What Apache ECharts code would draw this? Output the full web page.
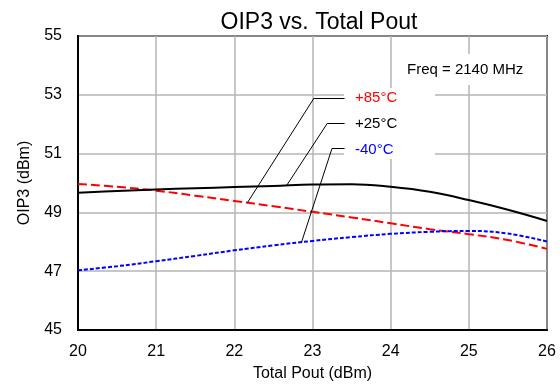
<!DOCTYPE html>
<html><head><meta charset="utf-8">
<script src="https://cdn.jsdelivr.net/npm/echarts@6/dist/echarts.min.js"></script>
<style>html,body{margin:0;padding:0;background:#fff}#c{width:560px;height:387px}</style>
</head><body><div id="c"></div>
<script>
const pout = [20, 20.5, 21, 21.5, 22, 22.5, 23, 23.5, 24, 24.5, 25, 25.5, 26];
const oip3_25 = [49.67, 49.73, 49.78, 49.82, 49.86, 49.90, 49.95, 49.96, 49.87, 49.70, 49.42, 49.09, 48.71];
const oip3_85 = [49.97, 49.87, 49.74, 49.57, 49.39, 49.21, 49.02, 48.83, 48.63, 48.43, 48.26, 48.06, 47.76];
const oip3_m40 = [47.03, 47.17, 47.34, 47.52, 47.71, 47.88, 48.03, 48.16, 48.27, 48.34, 48.37, 48.28, 48.01];
const seriesNames = ['+85°C', '+25°C', '-40°C'];
// leader lines: [curve point, elbow, end] in data units
const leader85 = [[22.17, 49.34], [23.02, 52.89], [23.41, 52.89]];
const leader25 = [[22.67, 49.92], [23.19, 52.03], [23.41, 52.03]];
const leaderM40 = [[22.86, 47.99], [23.25, 51.18], [23.41, 51.18]];

const pairs = (xs, ys) => xs.map((x, i) => [x, ys[i]]);
const segs = pts => pts.slice(1).map((p, i) => [{coord: pts[i]}, {coord: p}]);
const FONT = 'Liberation Sans, Arial, sans-serif';

const chart = echarts.init(document.getElementById('c'), null, {renderer: 'canvas'});
chart.setOption({
  animation: false,
  backgroundColor: '#fff',
  title: {text: 'OIP3 vs. Total Pout', left: 314, top: 6, textAlign: 'center',
    textStyle: {fontFamily: FONT, fontSize: 23, fontWeight: 'normal', color: '#000'}},
  grid: {left: 78, right: 13, top: 36, bottom: 54, show: true, borderColor: '#000', borderWidth: 2, backgroundColor: 'transparent'},
  xAxis: {type: 'value', min: 20, max: 26, interval: 1,
    name: 'Total Pout (dBm)', nameLocation: 'middle', nameGap: 36,
    nameTextStyle: {fontFamily: FONT, fontSize: 16, color: '#000'},
    axisLine: {show: true, lineStyle: {color: '#000', width: 2}},
    axisTick: {show: false},
    axisLabel: {fontFamily: FONT, fontSize: 16, color: '#000', margin: 14},
    splitLine: {show: true, lineStyle: {color: '#b4b4b4', width: 1.5}}},
  yAxis: {type: 'value', min: 45, max: 55, interval: 2,
    name: 'OIP3 (dBm)', nameLocation: 'middle', nameGap: 45,
    nameTextStyle: {fontFamily: FONT, fontSize: 16, color: '#000'},
    axisLine: {show: true, lineStyle: {color: '#000', width: 2}},
    axisTick: {show: false},
    axisLabel: {fontFamily: FONT, fontSize: 16, color: '#000', margin: 16},
    splitLine: {show: true, lineStyle: {color: '#b4b4b4', width: 1.5}}},
  graphic: [
    {type: 'rect', shape: {x: 344, y: 88, width: 91, height: 71}, style: {fill: '#fff'}, z: 5},
    {type: 'rect', shape: {x: 462, y: 54, width: 12, height: 31}, style: {fill: '#fff'}, z: 5},
    {type: 'text', x: 407, y: 70, style: {text: 'Freq = 2140 MHz', font: '15px ' + FONT, fill: '#000', verticalAlign: 'middle'}, z: 6},
    {type: 'text', x: 355, y: 98, style: {text: seriesNames[0], font: '15px ' + FONT, fill: '#ff0000', verticalAlign: 'middle'}, z: 6},
    {type: 'text', x: 355, y: 124, style: {text: seriesNames[1], font: '15px ' + FONT, fill: '#000', verticalAlign: 'middle'}, z: 6},
    {type: 'text', x: 355, y: 150, style: {text: seriesNames[2], font: '15px ' + FONT, fill: '#0000ff', verticalAlign: 'middle'}, z: 6}
  ],
  series: [
    {name: seriesNames[0], type: 'line', smooth: 0.4, symbol: 'none', data: pairs(pout, oip3_85),
      lineStyle: {color: '#ff0000', width: 2, type: [9, 4]}, z: 3,
      markLine: {silent: true, symbol: 'none', label: {show: false},
        lineStyle: {color: '#000', width: 1, type: 'solid'},
        data: [...segs(leader85), ...segs(leader25), ...segs(leaderM40)]}},
    {name: seriesNames[1], type: 'line', smooth: 0.4, symbol: 'none', data: pairs(pout, oip3_25),
      lineStyle: {color: '#000', width: 2, type: 'solid'}, z: 3},
    {name: seriesNames[2], type: 'line', smooth: 0.4, symbol: 'none', data: pairs(pout, oip3_m40),
      lineStyle: {color: '#0000ff', width: 2, type: [4, 2]}, z: 3}
  ]
});
</script></body></html>
